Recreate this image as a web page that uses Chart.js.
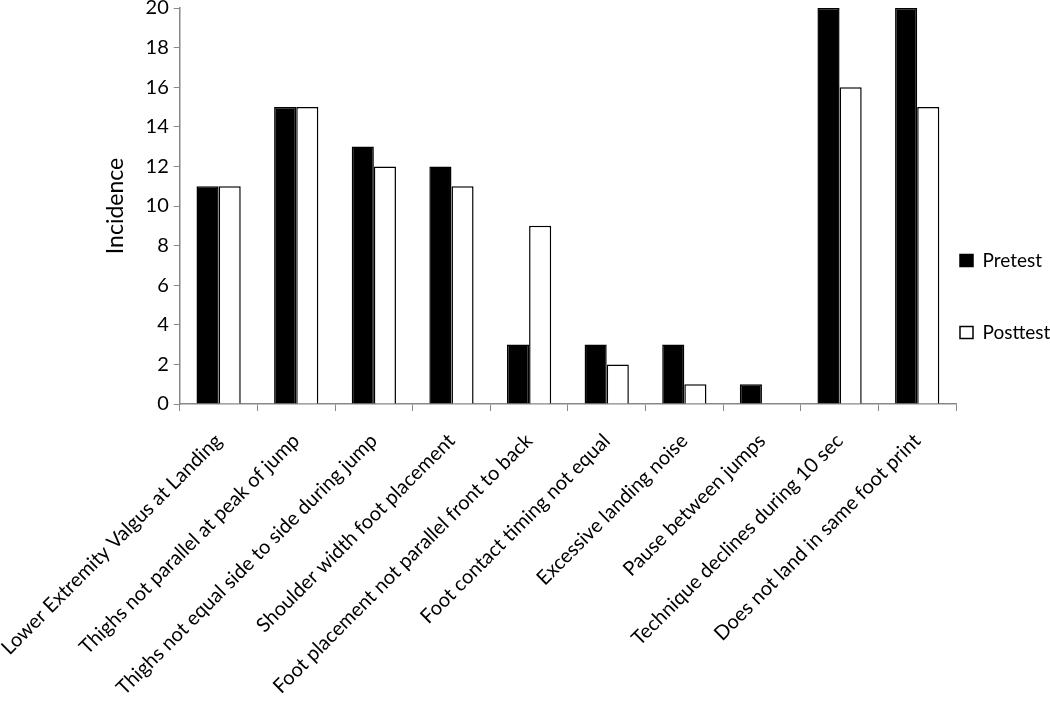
<!DOCTYPE html>
<html>
<head>
<meta charset="utf-8">
<script src="https://cdn.jsdelivr.net/npm/chart.js@4/dist/chart.umd.min.js"></script>
<style>
  html, body { margin: 0; padding: 0; background: #fff; }
  #wrap { width: 1050px; height: 703px; }
</style>
</head>
<body>
<div id="wrap"><canvas id="incidenceChart" width="1050" height="703"></canvas></div>
<script>
const categories = [
  "Lower Extremity Valgus at Landing",
  "Thighs not parallel at peak of jump",
  "Thighs not equal side to side during jump",
  "Shoulder width foot placement",
  "Foot placement not parallel front to back",
  "Foot contact timing not equal",
  "Excessive landing noise",
  "Pause between jumps",
  "Technique declines during 10 sec",
  "Does not land in same foot print"
];
const pretest = [11, 15, 13, 12, 3, 3, 3, 1, 20, 20];
const posttest = [11, 15, 12, 11, 9, 2, 1, 0, 16, 15];
const yTicks = [0, 2, 4, 6, 8, 10, 12, 14, 16, 18, 20];

const font = "Lato, 'Open Sans', sans-serif";
const ctx = document.getElementById("incidenceChart").getContext("2d");

// legend narrower than its label padding so the plot runs further right
const legendWidth = 94;
const legendShiftX = 49;
const legendShiftY = 55;
const narrowLegend = {
  id: 'narrowLegend',
  beforeLayout(chart) {
    const lg = chart.legend;
    if (!lg || lg._narrowed) return;
    lg._narrowed = true;
    const fit = lg.fit;
    lg.fit = function () {
      fit.call(this);
      this.width = legendWidth;
    };
    const draw = lg.draw;
    lg.draw = function () {
      const box = { left: this.left, top: this.top, bottom: this.bottom };
      this.left -= legendShiftX;
      this.top -= legendShiftY;
      this.bottom -= legendShiftY;
      draw.call(this);
      Object.assign(this, box);
    };
  }
};

new Chart(ctx, {
  type: 'bar',
  data: {
    labels: categories,
    datasets: [
      {
        label: 'Pretest',
        data: pretest,
        backgroundColor: '#000',
        borderColor: '#000',
        borderWidth: 1.5
      },
      {
        label: 'Posttest',
        data: posttest,
        backgroundColor: '#fff',
        borderColor: '#000',
        borderWidth: 1.5
      }
    ]
  },
  plugins: [narrowLegend],
  options: {
    responsive: false,
    animation: false,
    layout: { padding: { top: 0, right: 0, bottom: 0, left: 93 } },
    datasets: {
      bar: { categoryPercentage: 0.57, barPercentage: 1.0 }
    },
    plugins: {
      tooltip: { enabled: false },
      legend: {
        position: 'right',
        labels: {
          color: '#000',
          boxWidth: 13,
          boxHeight: 12,
          padding: 53,
          font: { family: font, size: 19 }
        }
      }
    },
    scales: {
      x: {
        afterFit: axis => {
          axis.height = 299;
          axis.paddingLeft = 0;
          axis.paddingRight = 0;
        },
        grid: {
          display: true,
          drawOnChartArea: false,
          offset: true,
          color: '#888',
          tickLength: 7
        },
        border: { color: '#888', width: 1.5 },
        ticks: {
          color: '#000',
          minRotation: 45,
          maxRotation: 45,
          autoSkip: false,
          padding: 18,
          font: { family: font, size: 20 }
        }
      },
      y: {
        min: 0,
        max: 20,
        afterBuildTicks: axis => { axis.ticks = yTicks.map(v => ({ value: v })); },
        afterFit: axis => {
          axis.paddingTop = 8;
          axis.paddingBottom = 0;
        },
        grid: {
          display: true,
          drawOnChartArea: false,
          color: '#888',
          tickLength: 6
        },
        border: { color: '#888', width: 1.5 },
        ticks: {
          color: '#000',
          padding: 5,
          font: { family: font, size: 20 }
        },
        title: {
          display: true,
          text: 'Incidence',
          color: '#000',
          padding: { top: 9, bottom: 11 },
          font: { family: font, size: 23 }
        }
      }
    }
  }
});
</script>
</body>
</html>
